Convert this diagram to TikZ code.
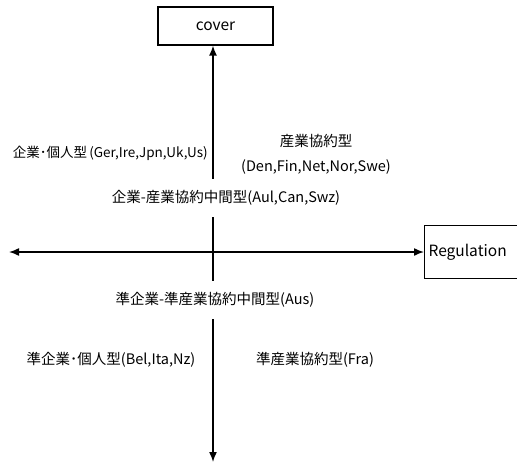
\documentclass[tikz,border=0pt]{standalone}
\usepackage{fontspec}
\setmainfont{Noto Sans CJK JP}
\usetikzlibrary{arrows.meta}
\begin{document}
\begin{tikzpicture}[x=1pt,y=-1pt,
  box/.style = {draw, line width=1.2pt},
  lab/.style = {font=\fontsize{14.5}{17}\selectfont, inner sep=0pt},
  mid/.style = {lab, fill=white, inner ysep=11pt, inner xsep=2pt},
  axis/.style = {{Latex[length=10pt,width=8pt]}-{Latex[length=10pt,width=8pt]}, line width=1.5pt},
  node distance={26pt}]
\useasboundingbox (0,0) rectangle (517,464);
% boxes on the axes
\node[box, lab, minimum width=115pt, minimum height=38pt, font=\fontsize{15.5}{18}\selectfont] (cover) at (215.5,26) {cover};
\node[box, lab, anchor=west, minimum height=53pt, text width=100pt, inner xsep=4pt, align=left, font=\fontsize{15.5}{18}\selectfont] (reg) at (424,252) {Regulation};
\coordinate (bot) at (213,462);
\coordinate (lft) at (9,252);
\draw[axis] (bot) -- (bot |- cover.south);
\draw[axis] (lft) -- (reg.west);
% quadrant labels
\node[lab, anchor=east, font=\fontsize{13.5}{16}\selectfont] (ind) at (208,153) {企業･個人型\,(Ger,Ire,Jpn,Uk,Us)};
\node[lab] (ibc) at (316,141) {産業協約型};
\node[lab] (ibcc) [below of=ibc] {\,(Den,Fin,Net,Nor,Swe)\,};
\node[mid] (mixA) at (226,198) {企業-産業協約中間型(Aul,Can,Swz)};
\node[mid] (mixB) at (215,300) {準企業-準産業協約中間型(Aus)};
\node[lab] (qind) at (111,360) {準企業･個人型(Bel,Ita,Nz)};
\node[lab] (qibc) at (315,360) {準産業協約型(Fra)};
\end{tikzpicture}
\end{document}
